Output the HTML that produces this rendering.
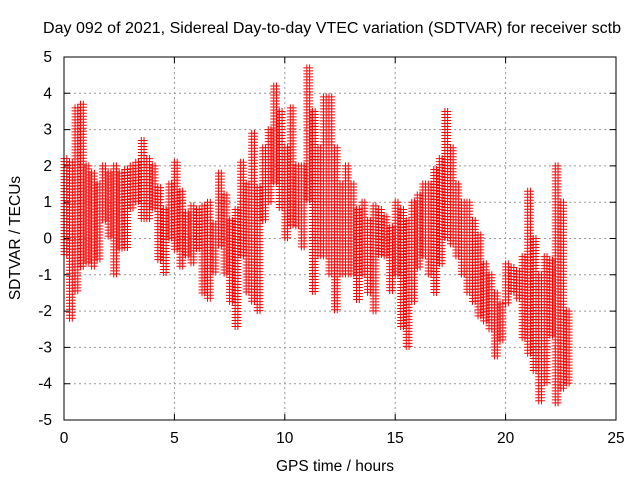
<!DOCTYPE html>
<html><head><meta charset="utf-8"><style>
body{margin:0;background:#fff}
svg text{font-family:"Liberation Sans",sans-serif;font-size:15.5px;fill:#000}
</style></head><body>
<svg id="c" width="640" height="480">
<text x="332" y="33" text-anchor="middle" textLength="578" lengthAdjust="spacingAndGlyphs">Day 092 of 2021, Sidereal Day-to-day VTEC variation (SDTVAR) for receiver sctb</text>
<text x="335" y="471" text-anchor="middle">GPS time / hours</text>
<text transform="translate(20,238) rotate(-90)" text-anchor="middle">SDTVAR / TECUs</text>
<g id="grid"></g><g id="marks"></g>
<rect x="64" y="57" width="552" height="363" fill="none" stroke="#000"/>
</svg>
<script>
const times=[0,0.25,0.5,0.75,1,1.25,1.5,1.75,2,2.25,2.5,2.75,3,3.25,3.5,3.75,4,4.25,4.5,4.75,5,5.25,5.5,5.75,6,6.25,6.5,6.75,7,7.25,7.5,7.75,8,8.25,8.5,8.75,9,9.25,9.5,9.75,10,10.25,10.5,10.75,11,11.25,11.5,11.75,12,12.25,12.5,12.75,13,13.25,13.5,13.75,14,14.25,14.5,14.75,15,15.25,15.5,15.75,16,16.25,16.5,16.75,17,17.25,17.5,17.75,18,18.25,18.5,18.75,19,19.25,19.5,19.75,20,20.25,20.5,20.75,21,21.25,21.5,21.75,22,22.25,22.5,22.75];
const lows=[-0.5,-2.2,-1.5,-0.8,-0.7,-0.8,-0.6,0.5,0,-1,-0.3,-0.3,0.8,1,0.5,0.5,0.8,-0.6,-1,0,-0.3,-0.8,-0.5,-0.7,-0.3,-1.5,-1.7,-1,-0.2,-1,-1.8,-2.5,-0.5,-1.5,-1.8,-2,0.5,1,1.5,0.8,0,0.3,0.3,-0.3,1,-1.5,-0.5,-0.5,-1,-2,-1,-1,-1,-1.7,-1,-1.5,-2,-0.5,-0.5,-1.5,-1,-2.5,-3,-1.8,-0.8,-0.5,-1,-1.5,-0.7,0,-0.2,-0.5,-1,-1.5,-1.8,-2.2,-2.3,-2.5,-3.3,-2.8,-1.8,-1.5,-1.7,-2.8,-3.2,-3.7,-4.5,-4,-2.7,-4.6,-4.2,-4];
const highs=[2.2,2.1,3.6,3.7,2,1.8,1.5,2,1.8,2,1.8,1.9,2,2.1,2.7,2.2,2,1.4,0.8,1.5,2.1,1.3,0.7,0.9,0.8,0.9,1,0.4,1.8,1.2,0.5,0.8,2.1,1.5,2.9,1.4,2.5,3,4.2,3.5,2.5,3.6,2,2,4.7,3.5,2.5,3.9,3.9,2.5,1.5,2,1.5,0.8,1,0.5,0.9,0.8,0.6,0.3,1,0.8,0.5,1,1.2,1.5,1.5,1.9,2.2,3.5,2.5,1.5,1,1,0.5,0.1,-0.7,-1,-1.5,-1.8,-0.7,-0.8,-0.9,-0.5,1.3,0,-1,-0.5,-0.6,2,1,-2];
const xTicks=[0,5,10,15,20,25];
const yTicks=[-5,-4,-3,-2,-1,0,1,2,3,4,5];
const X=v=>64+v*552/25, Y=v=>420-(v+5)*363/10;
const NS='http://www.w3.org/2000/svg';
const g=document.getElementById('grid'), m=document.getElementById('marks'), svg=document.getElementById('c');
xTicks.forEach(t=>{
 if(t>0&&t<25){const l=document.createElementNS(NS,'line');l.setAttribute('x1',X(t));l.setAttribute('x2',X(t));l.setAttribute('y1',57);l.setAttribute('y2',420);l.setAttribute('stroke','#999');l.setAttribute('stroke-dasharray','2,3');
 
 g.appendChild(l);}
 const tx=document.createElementNS(NS,'text');tx.setAttribute('x',X(t));tx.setAttribute('y',443);tx.setAttribute('text-anchor','middle');tx.textContent=t;
 
 svg.appendChild(tx);
 const k=document.createElementNS(NS,'path');k.setAttribute('d',`M${X(t)},420v-6M${X(t)},57v6`);k.setAttribute('stroke','#000');g.appendChild(k);
});
yTicks.forEach(t=>{
 if(t>-5&&t<5){const l=document.createElementNS(NS,'line');l.setAttribute('x1',64);l.setAttribute('x2',616);l.setAttribute('y1',Y(t));l.setAttribute('y2',Y(t));l.setAttribute('stroke','#999');l.setAttribute('stroke-dasharray','2,3');
 
 g.appendChild(l);}
 const tx=document.createElementNS(NS,'text');tx.setAttribute('x',52);tx.setAttribute('y',Y(t)+5);tx.setAttribute('text-anchor','end');tx.textContent=t;
 
 svg.appendChild(tx);
 const k=document.createElementNS(NS,'path');k.setAttribute('d',`M64,${Y(t)}h6M616,${Y(t)}h-6`);k.setAttribute('stroke','#000');g.appendChild(k);
});
let d='';
times.forEach((t,i)=>{
 const y1=Y(highs[i]), y2=Y(lows[i]);
 [0,0.125].forEach(o=>{const x=X(t+o);
  for(let y=y1;y<=y2+0.01;y+=3){d+=`M${x-3.5},${y}h7M${x},${y-3.5}v7`;}
 });
});
const p=document.createElementNS(NS,'path');p.setAttribute('d',d);p.setAttribute('stroke','#f00');p.setAttribute('stroke-width','1');p.setAttribute('fill','none');


m.appendChild(p);
</script>
</body></html>
